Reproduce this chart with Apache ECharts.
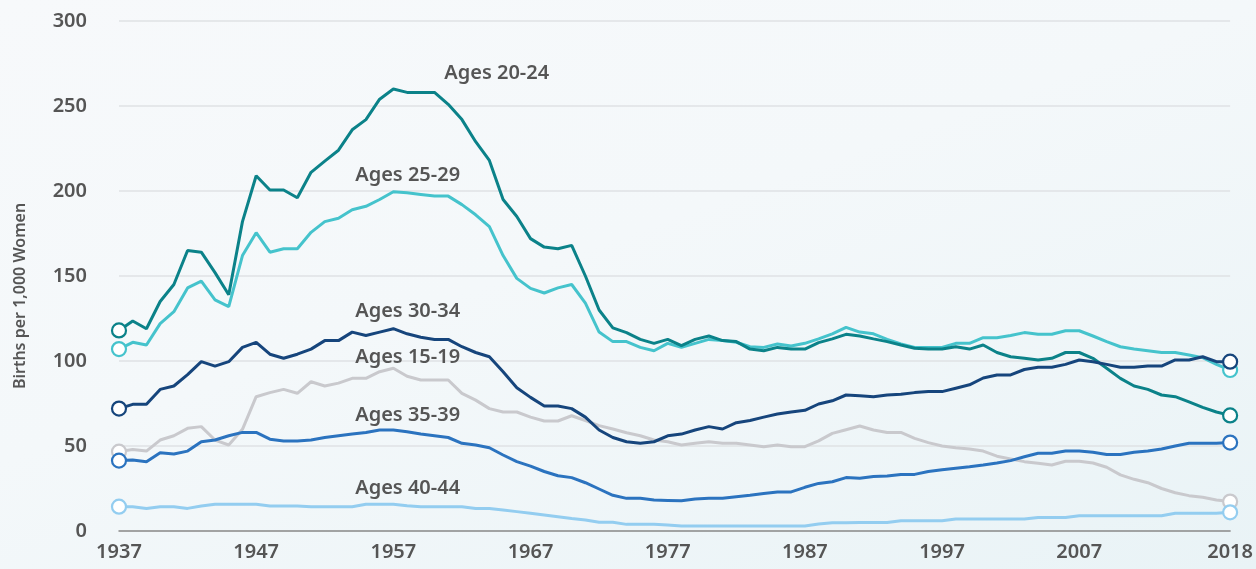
<!DOCTYPE html>
<html>
<head>
<meta charset="utf-8">
<script src="https://cdn.jsdelivr.net/npm/echarts@6/dist/echarts.min.js"></script>
<style>
	html,body{margin:0;padding:0;}
	body{background:linear-gradient(160deg,#f7f9fb 0%,#f4f8fa 45%,#e9f3f6 100%);}
	#birth{width:1256px;height:569px;}
</style>
</head>
<body>
<div id="birth"></div>
<script>
var years = [];
for(var y = 1937; y <= 2018; y++){
	years.push(String(y));
}
var yTicks = [0,50,100,150,200,250,300];

var age2024 = [118,123.5,119,135,145,165,164,152,139,182,
	209,200.6,200.6,196,211,217.6,224,236,242,254,
	260,258,258,258,251,242,229,218,195,185,
	172,167,166,168,150,130,119.5,116.7,112.7,110.4,
	112.7,109,112.7,114.7,112,111.4,107,106,108,107,
	107,110.8,113,115.7,114.7,113,111.4,109.4,107.5,107,
	107,108.4,107,109.4,105,102.5,101.6,100.6,101.6,105,
	105,101.6,95.7,89.8,85.3,83.3,80,79,76,72.7,
	70,68];
var age2529 = [107,111,109.4,122,129,143,147,136,132,162,
	175.5,164,166,166,175.7,182,184,189,191,195,
	199.6,199,198,197,197,192,186,179,162,148.6,
	142.7,140,143,145,134,117,111.4,111.4,108,106,
	110.4,108,110.4,112.7,112,111,108.4,108,110,108.8,
	110.4,113,116,119.8,117,116,112.7,110,108,108,
	108,110.4,110.4,113.7,113.7,115,116.7,115.7,115.7,117.8,
	117.8,114.7,111.4,108.4,107,106,105,105,103.5,102,
	98,94.7];
var age3034 = [72,74.5,74.5,83.3,85.3,92,99.6,97,99.6,108,
	111,104,101.6,104,107,112,112,117,115,117,
	119,116,114,112.7,112.7,108.4,105,102.5,93.7,84.3,
	78.6,73.5,73.5,72,67,59.4,55,52.5,51.6,52.5,
	56,57,59.4,61.4,60,63.7,65,67,68.8,70,
	71,74.7,76.6,80,79.6,79,80,80.4,81.4,82,
	82,84,86,90,91.8,91.8,95,96.3,96.3,98,
	100.6,99.6,98,96.3,96.3,97,97,100.6,100.6,102.5,
	99.6,99.6];
var age1519 = [46.7,48,47,53.5,56,60.4,61.4,53.5,50.6,59.8,
	79,81.4,83.3,81,87.8,85.3,87,89.8,89.8,93.7,
	95.7,91,88.8,88.8,88.8,81,77,72,70,70,
	67,64.7,64.7,67.8,65,62,60,57.8,56,53.5,
	52.5,50.6,51.6,52.5,51.6,51.6,50.6,49.6,50.6,49.6,
	49.6,53,57.4,59.6,61.8,59.4,58,58,54.5,52,
	50,49,48.2,47,44,42.4,40.8,39.8,38.8,41,
	41,40,37.5,33,30.4,28.4,25,22.5,20.8,19.8,
	18.2,17.3];
var age3539 = [41.4,41.8,40.8,46,45.3,47,52.5,53.5,56,58,
	58,54,53,53,53.5,55,56,57,58,59.4,
	59.4,58.4,57,56,55,51.6,50.6,49,44.7,40.8,
	38.2,35,32.5,31.4,28.4,24.7,21,19.2,19.2,18.2,
	18,17.8,18.8,19.2,19.2,20.2,21,22,23,23,
	25.7,28,29,31.4,31,32,32.4,33.3,33.3,35,
	36,36.9,37.8,38.8,40,41.4,43.7,45.7,45.7,47,
	47,46.3,45,45,46.3,47,48.2,50,51.6,51.6,
	51.6,52];
var age4044 = [14.3,14.3,13.3,14.3,14.3,13.3,14.7,15.7,15.7,15.7,
	15.7,14.7,14.7,14.7,14.3,14.3,14.3,14.3,15.7,15.7,
	15.7,14.9,14.3,14.3,14.3,14.3,13.3,13.3,12.4,11.4,
	10.4,9.4,8.4,7.4,6.5,5.1,5.1,3.9,3.9,3.9,
	3.5,2.9,2.9,2.9,2.9,2.9,2.9,2.9,2.9,2.9,
	2.9,4.1,4.9,4.9,5,5,5,6,6,6,
	6,7,7,7,7,7,7,8,8,8,
	9,9,9,9,9,9,9,10.4,10.4,10.4,
	10.4,11];

// series names, and where each line label sits (year, value)
var seriesNames = ['Ages 15-19','Ages 40-44','Ages 35-39','Ages 25-29','Ages 20-24','Ages 30-34'];
var labelYears = ['1954','1954','1954','1954','1961','1954'];
var labelValues = [102.4,25.3,68.2,209.4,269,129.4];

function birthChart(){
	var txtColor = '#555555';
	var font = '"Noto Sans", sans-serif';
	var colors = ['#c9c9cd','#93cdf0','#2b73bf','#45c3cc','#0b8289','#16457c'];
	var values = [age1519,age4044,age3539,age2529,age2024,age3034];
	var last = years.length - 1;
	var series = [];
	for(var i = 0; i < values.length; i++){
		series.push({
			name: seriesNames[i],
			type: 'line',
			data: values[i],
			showAllSymbol: true,
			symbol: function(val, params){
				return (params.dataIndex === 0 || params.dataIndex === last) ? 'circle' : 'none';
			},
			symbolSize: 14,
			itemStyle: {color: '#ffffff', borderColor: colors[i], borderWidth: 2.2},
			lineStyle: {color: colors[i], width: 3},
			animation: false,
			markPoint: {
				symbol: 'circle',
				symbolSize: 0,
				animation: false,
				data: [{coord: [labelYears[i], labelValues[i]]}],
				label: {
					show: true,
					position: 'right',
					distance: 0,
					offset: [i === 4 ? -4 : 3, 0],
					formatter: seriesNames[i],
					color: txtColor,
					fontSize: 20,
					fontWeight: 600,
					fontFamily: font
				}
			}
		});
	}
	var myChart = echarts.init(document.getElementById('birth'));
	var option = {
		backgroundColor: 'transparent',
		grid: {left: 119, right: 11, top: 21, bottom: 38},
		xAxis: {
			type: 'category',
			boundaryGap: false,
			data: years,
			axisLine: {lineStyle: {color: '#8c8c8c', width: 1.5}},
			axisTick: {show: false},
			axisLabel: {
				interval: function(idx, val){
					return (idx % 10 === 0 && Number(val) <= 2007) || val === '2018';
				},
				color: txtColor,
				fontSize: 20,
				fontWeight: 600,
				fontFamily: font,
				margin: 11
			}
		},
		yAxis: {
			type: 'value',
			min: yTicks[0],
			max: yTicks[yTicks.length - 1],
			interval: 50,
			axisLine: {show: false},
			axisTick: {show: false},
			splitLine: {lineStyle: {color: '#dfe2e5', width: 1.5}},
			axisLabel: {
				color: txtColor,
				fontSize: 20,
				fontWeight: 600,
				fontFamily: font,
				margin: 32
			}
		},
		graphic: [{
			type: 'text',
			x: 20,
			y: 296,
			rotation: Math.PI / 2,
			style: {
				text: 'Births per 1,000 Women',
				fill: txtColor,
				font: '600 16px "Noto Sans", sans-serif',
				textAlign: 'center',
				textVerticalAlign: 'middle'
			}
		}],
		series: series
	};
	myChart.setOption(option);
}
birthChart();
</script>
</body>
</html>
